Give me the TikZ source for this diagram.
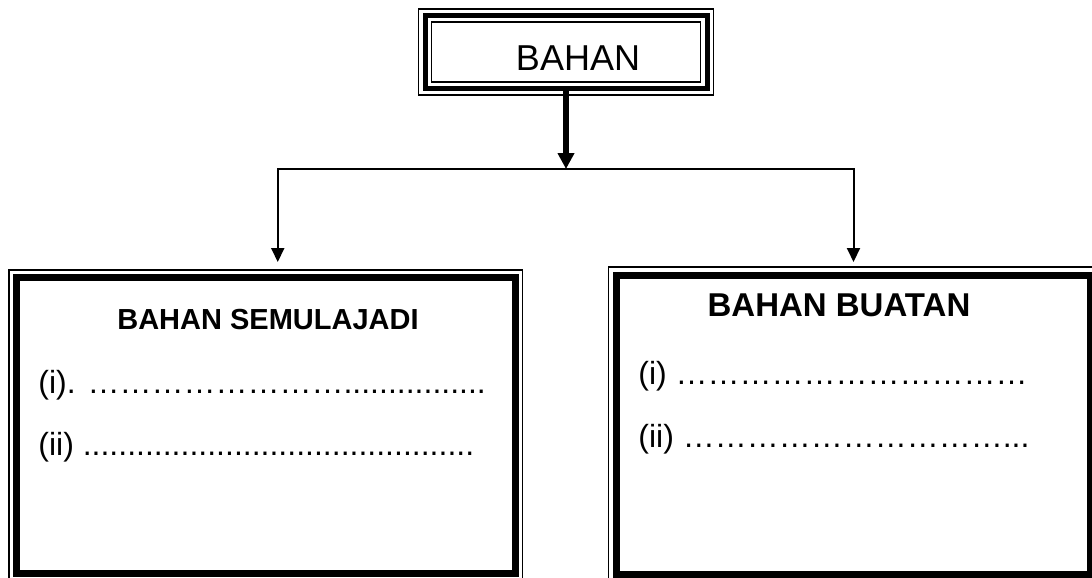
\documentclass[tikz,border=0pt]{standalone}
\usepackage{fontspec}
\setmainfont{Liberation Sans}
\usepackage{tikz}
\usetikzlibrary{arrows.meta}
\tikzset{>=latex}
% rows of dots to write on
\newcommand{\titik}[1]{\foreach \n in {1,...,#1}{.}}
\newcommand{\elip}[1]{\foreach \n in {1,...,#1}{…}}

\begin{document}
\begin{tikzpicture}[x=0.5pt, y=-0.5pt]
        % kotak = thick frame, garis = thin frame round it
        \tikzstyle{kotak}=[draw=black, outer sep=0pt, inner sep=0pt]
        \tikzstyle{garis}=[draw=black, line width=0.75pt]
        \tikzstyle{tajuk}=[font=\fontsize{14.5}{18}\selectfont\bfseries, anchor=base]
        \tikzstyle{isi}=[font=\fontsize{16}{19}\selectfont, anchor=base west, inner sep=0pt]
        \useasboundingbox (0,0) rectangle (1092,578);

        % top box
        \node[kotak, line width=2.5pt, minimum width=141pt, minimum height=36.5pt] (bahan) at (566,52) {};
        \draw[garis] ([shift={(-6.5,-6.5)}]bahan.north west) rectangle ([shift={(6.5,6.5)}]bahan.south east);
        \draw[garis] ([shift={(6.5,6.5)}]bahan.north west) rectangle ([shift={(-6.5,-6.5)}]bahan.south east);
        \node[font=\fontsize{18}{21}\selectfont, anchor=base] (judul) at (578,70) {BAHAN};

        % two boxes below
        \node[kotak, line width=3.5pt, minimum width=249.25pt, minimum height=148.25pt] (semulajadi) at (265.75,425.25) {};
        \draw[garis] ([shift={(-7.5,-7)}]semulajadi.north west) rectangle ([shift={(7.5,7.5)}]semulajadi.south east);
        \node[kotak, line width=3.5pt, minimum width=237pt, minimum height=149.5pt] (buatan) at (853.5,424.5) {};
        \draw[garis] ([shift={(-8,-8)}]buatan.north west) rectangle ([shift={(8,8)}]buatan.south east);

        % arrows
        \coordinate (cabang) at (566,169);
        \draw[-{Triangle[length=8pt, width=8pt]}, line width=3pt] (bahan.south) -- (cabang);
        \draw[-{Triangle[length=7pt, width=6.5pt]}, line width=1pt, shorten >=7.5pt] (cabang) -| ([xshift=6pt]semulajadi.north);
        \draw[-{Triangle[length=7pt, width=6.5pt]}, line width=1pt, shorten >=6.5pt] (cabang) -| (buatan.north);

        % texts
        \node[tajuk] (tajukkiri) at (268,329) {BAHAN SEMULAJADI};
        \node[isi] (kiri1) at (38,393) {(i). \elip{8}\titik{16}};
        \node[isi] (kiri2) at (38,455) {(ii) \titik{44}};
        \node[tajuk, font=\fontsize{16.5}{19}\selectfont\bfseries] (tajukkanan) at (839,316) {BAHAN BUATAN};
        \node[isi] (kanan1) at (638,384) {(i) \elip{11}};
        \node[isi] (kanan2) at (638,447) {(ii) \elip{10}...};
\end{tikzpicture}
\end{document}
